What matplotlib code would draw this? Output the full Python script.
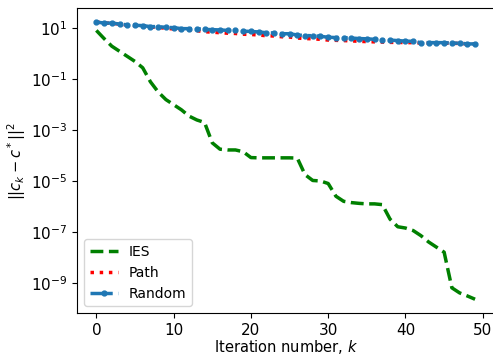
import numpy as np
import matplotlib.pyplot as plt

iters = np.arange(50)

# log10 of ||c_k - c*||^2
ies_log = [0.92, 0.6, 0.3, 0.1, -0.1, -0.3, -0.55, -1.1, -1.5, -1.8,
           -2.0, -2.2, -2.45, -2.6, -2.7, -3.5, -3.75, -3.78, -3.78, -3.85,
           -4.08, -4.09, -4.09, -4.09, -4.09, -4.09, -4.1, -4.75, -4.98, -5.0,
           -5.1, -5.6, -5.8, -5.85, -5.88, -5.9, -5.9, -5.93, -6.5, -6.8,
           -6.85, -6.95, -7.15, -7.4, -7.6, -7.8, -9.2, -9.4, -9.52, -9.65]
random_log = [1.25, 1.21, 1.21, 1.17, 1.14, 1.12, 1.11, 1.07, 1.07, 1.04,
              1.03, 0.99, 0.99, 0.99, 0.96, 0.95, 0.94, 0.92, 0.92, 0.89,
              0.88, 0.86, 0.83, 0.82, 0.79, 0.79, 0.74, 0.72, 0.71, 0.69,
              0.65, 0.64, 0.64, 0.62, 0.60, 0.59, 0.57, 0.55, 0.54, 0.52,
              0.50, 0.49, 0.44, 0.44, 0.44, 0.44, 0.42, 0.42, 0.39, 0.39]
path_log = [1.25, 1.21, 1.20, 1.17, 1.13, 1.11, 1.09, 1.05, 1.04, 1.00,
            0.98, 0.94, 0.93, 0.91, 0.87, 0.85, 0.83, 0.81, 0.80, 0.77,
            0.76, 0.74, 0.71, 0.70, 0.67, 0.66, 0.62, 0.60, 0.59, 0.57,
            0.54, 0.53, 0.52, 0.51, 0.49, 0.48, 0.47, 0.46, 0.45, 0.45,
            0.44, 0.44, 0.42, 0.42, 0.42, 0.42, 0.41, 0.41, 0.39, 0.39]

ies = 10.0 ** np.array(ies_log)
path = 10.0 ** np.array(path_log)
rand = 10.0 ** np.array(random_log)

fig = plt.figure(figsize=(4.93, 3.55), dpi=100)
ax = fig.add_axes([0.157, 0.118, 0.845, 0.859])

ax.plot(iters, ies, '--', color='green', lw=2.5, label='IES')
ax.plot(iters, path, ':', color='red', lw=2.5, label='Path')
ax.plot(iters, rand, '.-.', color='tab:blue', lw=2.5, markersize=7, label='Random')

ax.set_yscale('log')
ax.set_yticks([1e1, 1e-1, 1e-3, 1e-5, 1e-7, 1e-9])
ax.minorticks_off()
ax.tick_params(labelsize=11)
ax.set_xlabel('Iteration number, $k$', fontsize=10.5, labelpad=0)
ax.set_ylabel(r'$||c_k - c^*||^2$', fontsize=10.5, labelpad=2)
ax.legend(loc='lower left', fontsize=10)

fig.savefig('out.png', dpi=100)
